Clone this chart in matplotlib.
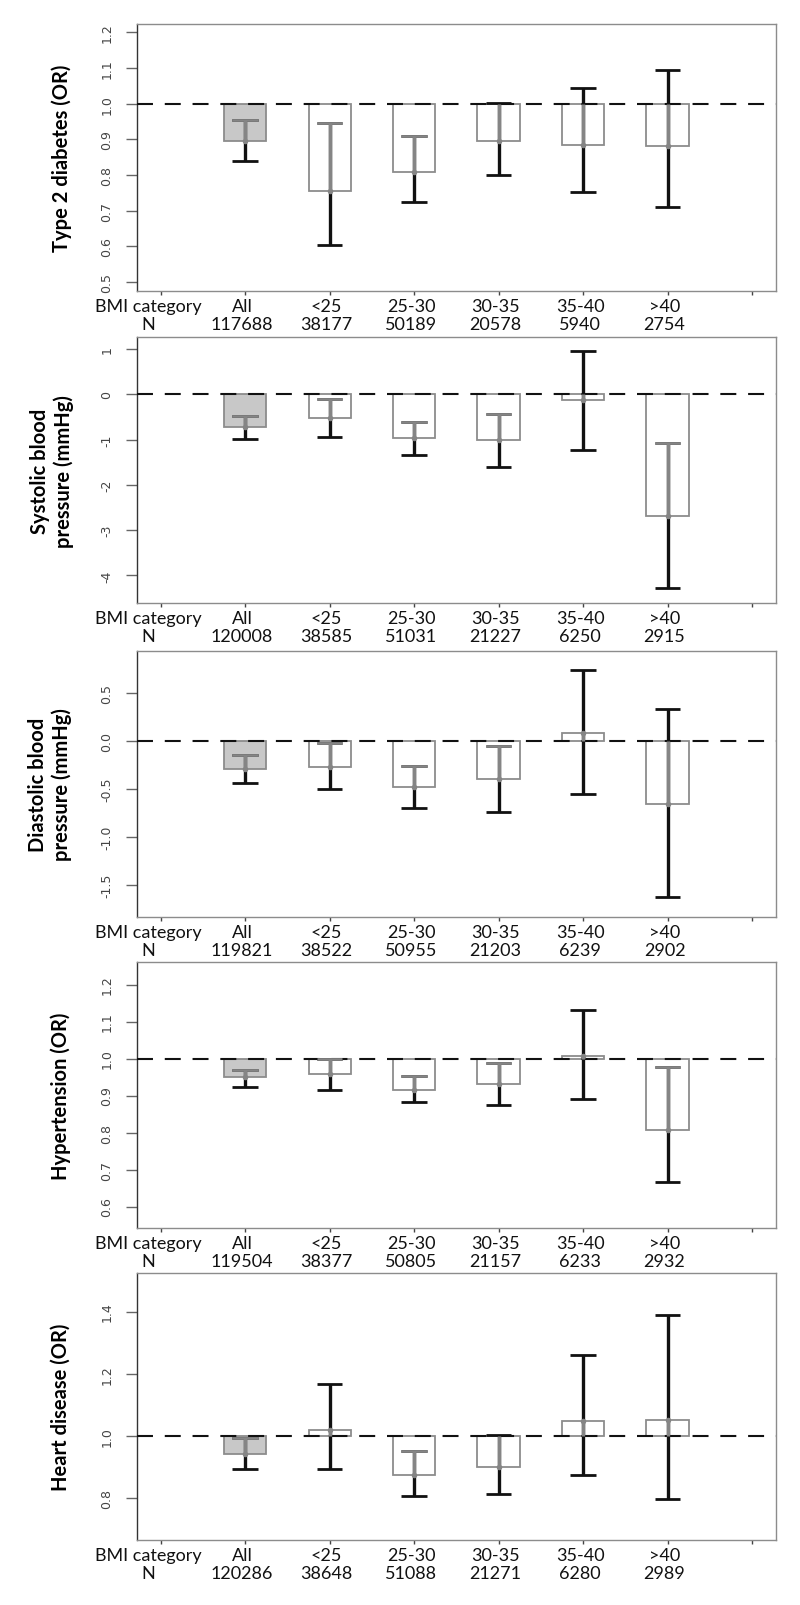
import matplotlib
matplotlib.use('Agg')
import matplotlib.pyplot as plt
import matplotlib.transforms as mtransforms

plt.rcParams['font.family'] = ['Lato', 'DejaVu Sans']
plt.rcParams['axes.unicode_minus'] = False
plt.rcParams['lines.scale_dashes'] = False

categories = ['All', '<25', '25-30', '30-35', '35-40', '>40']

ylabels = ['Type 2 diabetes (OR)', 'Systolic blood\npressure (mmHg)',
           'Diastolic blood\npressure (mmHg)', 'Hypertension (OR)',
           'Heart disease (OR)']
ref_lines = [1.0, 0.0, 0.0, 1.0, 1.0]

# type 2 diabetes
t2d_n = [117688, 38177, 50189, 20578, 5940, 2754]
t2d_est = [0.896, 0.755, 0.808, 0.895, 0.885, 0.881]
t2d_lo = [0.840, 0.604, 0.725, 0.800, 0.752, 0.710]
t2d_hi = [0.954, 0.945, 0.908, 1.002, 1.043, 1.094]

# systolic bp
sbp_n = [120008, 38585, 51031, 21227, 6250, 2915]
sbp_est = [-0.727, -0.528, -0.970, -1.015, -0.130, -2.690]
sbp_lo = [-0.985, -0.934, -1.345, -1.600, -1.220, -4.280]
sbp_hi = [-0.484, -0.108, -0.610, -0.433, 0.950, -1.070]

# diastolic bp
dbp_n = [119821, 38522, 50955, 21203, 6239, 2902]
dbp_est = [-0.293, -0.269, -0.483, -0.400, 0.084, -0.653]
dbp_lo = [-0.438, -0.503, -0.700, -0.742, -0.549, -1.624]
dbp_hi = [-0.144, -0.026, -0.265, -0.054, 0.730, 0.330]

# hypertension
htn_n = [119504, 38377, 50805, 21157, 6233, 2932]
htn_est = [0.949, 0.957, 0.916, 0.931, 1.006, 0.807]
htn_lo = [0.922, 0.916, 0.883, 0.875, 0.890, 0.667]
htn_hi = [0.969, 0.999, 0.952, 0.989, 1.132, 0.977]

# heart disease
chd_n = [120286, 38648, 51088, 21271, 6280, 2989]
chd_est = [0.942, 1.020, 0.875, 0.899, 1.049, 1.052]
chd_lo = [0.894, 0.894, 0.806, 0.814, 0.876, 0.798]
chd_hi = [0.994, 1.167, 0.951, 1.003, 1.261, 1.389]

yticks = [[0.5, 0.6, 0.7, 0.8, 0.9, 1.0, 1.1, 1.2],
          [-4, -3, -2, -1, 0, 1],
          [-1.5, -1.0, -0.5, 0.0, 0.5],
          [0.6, 0.7, 0.8, 0.9, 1.0, 1.1, 1.2],
          [0.8, 1.0, 1.2, 1.4]]
ytick_fmt = ['%.1f', '%d', '%.1f', '%.1f', '%.1f']
ylims = [(0.476, 1.223), (-4.615, 1.261), (-1.826, 0.929), (0.542, 1.26), (0.666, 1.523)]

panels = [(t2d_n, t2d_est, t2d_lo, t2d_hi),
          (sbp_n, sbp_est, sbp_lo, sbp_hi),
          (dbp_n, dbp_est, dbp_lo, dbp_hi),
          (htn_n, htn_est, htn_lo, htn_hi),
          (chd_n, chd_est, chd_lo, chd_hi)]

# panel top / bottom in pixels from the top of the figure
W, H = 800, 1606
boxes = [(25, 291.7), (338.3, 604.3), (652.3, 917.7), (963.3, 1229), (1274.3, 1541)]
ax_left, ax_right = 137, 775.7
label_x = [62, 52, 50, 61, 61]

BLACK = '#111111'
GREY = '#858585'
cap_w = 0.15

fig = plt.figure(figsize=(W / 100, H / 100), dpi=100)

for p in range(5):
    top, bot = boxes[p]
    ax = fig.add_axes([ax_left / W, 1 - bot / H, (ax_right - ax_left) / W, (bot - top) / H])
    ax.set_facecolor('none')
    n, est, lo, hi = panels[p]
    ref = ref_lines[p]
    xs = list(range(1, len(categories) + 1))

    heights = [e - ref for e in est]
    fills = ['#c8c8c8'] + ['white'] * (len(categories) - 1)
    ax.bar(xs, heights, bottom=ref, width=0.5, color=fills, edgecolor='#8c8c8c',
           linewidth=1.3, zorder=2)
    ax.axhline(ref, color=BLACK, lw=1.5, dashes=(11.5, 8.5), zorder=3)

    for i, x in enumerate(xs):
        # whole interval in black
        ax.vlines(x, lo[i], hi[i], color=BLACK, lw=2.4, zorder=4)
        ax.hlines([lo[i], hi[i]], x - cap_w, x + cap_w, color=BLACK, lw=2.0, zorder=4)
        # the part inside the bar is grey
        b0, b1 = min(est[i], ref), max(est[i], ref)
        g0, g1 = max(lo[i], b0), min(hi[i], b1)
        if g1 > g0:
            ax.vlines(x, g0, g1, color=GREY, lw=2.4, zorder=5)
        for c in (lo[i], hi[i]):
            if b0 <= c <= b1:
                ax.hlines(c, x - cap_w, x + cap_w, color=GREY, lw=2.0, zorder=5)
        ax.plot(x, est[i], 'o', color=GREY, ms=4, mec='none', zorder=6)

    ax.set_xlim(-0.28, 7.28)
    ax.set_ylim(*ylims[p])

    # tick marks only; the two-row labels are placed as text, a bit left of the ticks
    ax.set_xticks(range(8))
    ax.set_xticklabels([''] * 8)
    ax.tick_params(axis='x', length=3, width=1, color='#444444')
    xt_labels = ['BMI category\nN'] + ['%s\n%d' % (c, v) for c, v in zip(categories, n)]
    base = mtransforms.blended_transform_factory(ax.transData, ax.transAxes)
    for k, lab in enumerate(xt_labels):
        dx = -12 if k == 0 else -3
        off = mtransforms.ScaledTranslation(dx / 100, -7 / 100, fig.dpi_scale_trans)
        ax.text(k, 0, lab, transform=base + off, ha='center', va='top',
                fontsize=13, linespacing=1.15, color='#111111', clip_on=False)

    ax.set_yticks(yticks[p])
    ax.set_yticklabels([ytick_fmt[p] % v for v in yticks[p]], rotation=90, va='center',
                       family=['Liberation Sans Narrow', 'DejaVu Sans'], fontsize=9,
                       color='#444444')
    ax.tick_params(axis='y', length=8, width=1, color='#666666', pad=9)

    for side in ['top', 'right', 'bottom']:
        ax.spines[side].set_color('#8c8c8c')
        ax.spines[side].set_linewidth(1.0)
    ax.spines['left'].set_color('#333333')
    ax.spines['left'].set_linewidth(1.0)

    trans = mtransforms.blended_transform_factory(fig.transFigure, ax.transAxes)
    ax.text(label_x[p] / W, 0.5, ylabels[p], transform=trans, rotation=90,
            ha='center', va='center', multialignment='center', fontsize=14.5,
            fontweight='bold', linespacing=1.25)

fig.savefig('out.png', dpi=100, facecolor='white')
